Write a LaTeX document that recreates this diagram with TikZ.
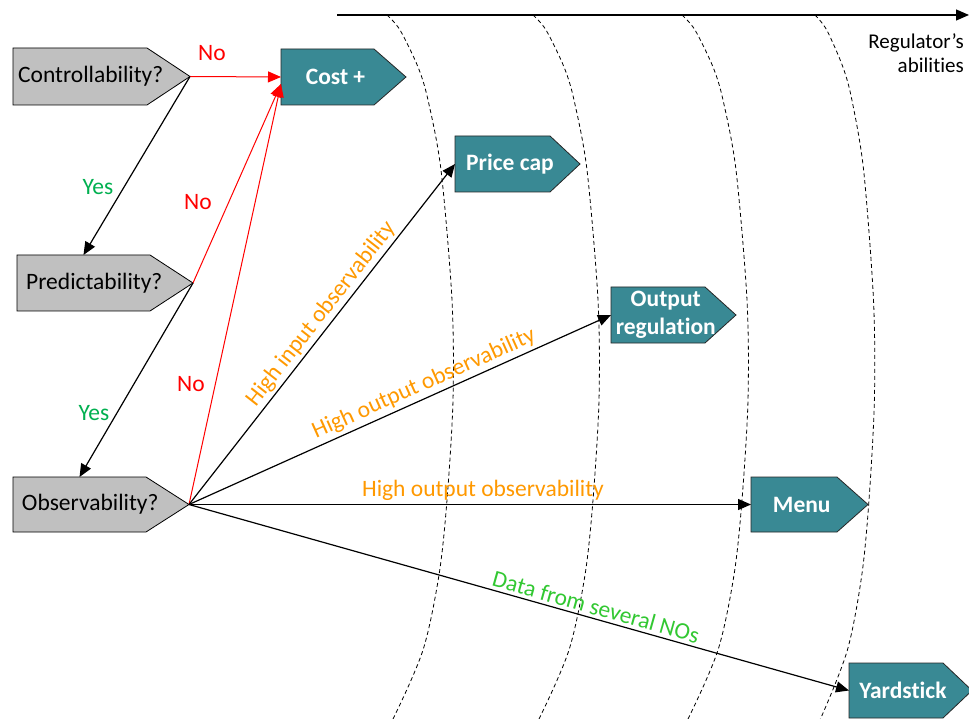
\documentclass[tikz,border=0pt]{standalone}
\usepackage{fontspec}
\setmainfont[Ligatures={NoCommon}]{Carlito}
\usetikzlibrary{arrows.meta}
\definecolor{teal1}{RGB}{57,137,148}
\definecolor{gray1}{RGB}{192,192,192}
\definecolor{orng}{RGB}{255,153,0}
\definecolor{grnY}{RGB}{0,176,80}
\definecolor{grnD}{RGB}{50,200,50}
\definecolor{redN}{RGB}{255,0,0}
\tikzset{
  gbox/.style={fill=gray1, draw=black, line width=0.8pt},
  tbox/.style={fill=teal1, draw=black!85, line width=0.8pt},
  gtext/.style={font=\fontsize{23.5}{28}\selectfont, text=black, inner sep=0pt},
  ttext/.style={font=\fontsize{23.5}{28}\selectfont\bfseries, text=white, inner sep=0pt, align=center},
  conn/.style={line width=1.2pt, -{Triangle[length=13pt,width=11pt]}},
  redconn/.style={line width=1pt, draw=redN, -{Triangle[length=13pt,width=11pt]}, color=redN},
  lbl/.style={font=\fontsize{23.5}{28}\selectfont, inner sep=0pt},
  bound/.style={dash pattern=on 4pt off 3pt, line width=0.8pt},
}
\newcommand\pbox[7]{%
  \path[#2] (#3,#4) -- (#5,#4) -- (#6,{(#4+#7)/2}) -- (#5,#7) -- (#3,#7) -- cycle;
  \coordinate (#1-tip) at (#6,{(#4+#7)/2});
  \coordinate (#1-w) at (#3,{(#4+#7)/2});
  \coordinate (#1-n) at ({(#3+#5)/2},#4);
}
\begin{document}
\begin{tikzpicture}[x=1pt,y=-1pt]
\useasboundingbox (0,0) rectangle (969,719);
\clip (0,0) rectangle (969,719);
\fill[white] (0,0) rectangle (969,719);

% boundaries of regulator's abilities
\foreach \cx/\s in {387/1,533/1,682/1,815/0.9}{
  \draw[bound] plot[smooth] coordinates {(\cx,15) ({\cx+13*\s},30) ({\cx+31*\s},67) ({\cx+41*\s},100) ({\cx+54*\s},170) ({\cx+65*\s},300) ({\cx+66*\s},400) ({\cx+60*\s},500) ({\cx+52*\s},575) ({\cx+36*\s},650) ({\cx+6*\s},719) ({\cx-6*\s},735)};
}

% axis
\coordinate (axs) at (337,15);
\coordinate (axe) at (969,15);
\draw[conn] (axs) -- (axe);
\node[font=\fontsize{21}{24}\selectfont, align=right, anchor=north east, inner sep=0pt] (reg) at (964,33) {Regulator’s\\abilities};

% boxes
\pbox{ctrl}{gbox}{13}{48}{147}{190}{105}
\pbox{pred}{gbox}{17}{255}{150}{193}{311}
\pbox{obs}{gbox}{13}{477}{146}{189}{532}
\pbox{cost}{tbox}{281}{49}{374}{406}{105}
\pbox{price}{tbox}{455}{136}{550}{580}{192}
\pbox{outreg}{tbox}{611}{287}{705}{736}{343}
\pbox{menu}{tbox}{751}{477}{837}{868}{532}
\pbox{yard}{tbox}{849}{663}{943}{972}{718}
\coordinate (cost-in) at (281,84);

\node[gtext] (ctrlT) at (90.75,76.5) {Controllability?};
\node[gtext] (predT) at (94.25,283) {Predictability?};
\node[gtext] (obsT) at (90.25,504.5) {Observability?};
\node[ttext] (costT) at (335.5,77) {Cost +};
\node[ttext] (priceT) at (510,164) {Price cap};
\node[ttext] (outregT) at (665.75,315) {Output\\regulation};
\node[ttext] (menuT) at (801.75,504.5) {Menu};
\node[ttext] (yardT) at (903,690.5) {Yardstick};

% connectors
\draw[redconn] (ctrl-tip) -- (cost-w);
\draw[redconn] (pred-tip) -- (cost-in);
\draw[redconn] (obs-tip) -- (cost-in);
\draw[conn] (ctrl-tip) -- (pred-n);
\draw[conn] (pred-tip) -- (obs-n);
\draw[conn] (obs-tip) -- (price-w);
\draw[conn] (obs-tip) -- (outreg-w);
\draw[conn] (obs-tip) -- (menu-w);
\draw[conn] (obs-tip) -- (yard-w);

% labels
\node[lbl, text=redN] (no1) at (212,53) {No};
\node[lbl, text=grnY] (yes1) at (98,187) {Yes};
\node[lbl, text=redN] (no2) at (198,202) {No};
\node[lbl, text=grnY] (yes2) at (94,413) {Yes};
\node[lbl, text=redN] (no3) at (191,384) {No};
\node[lbl, text=orng, rotate=51.9] (hio) at (321,314) {High input observability};
\node[lbl, text=orng, rotate=24.1] (hoo1) at (424,384) {High output observability};
\node[lbl, text=orng] (hoo2) at (483,490) {High output observability};
\node[lbl, text=grnD, rotate=-15.7] (data) at (596,607) {Data from several NOs};
\end{tikzpicture}
\end{document}
